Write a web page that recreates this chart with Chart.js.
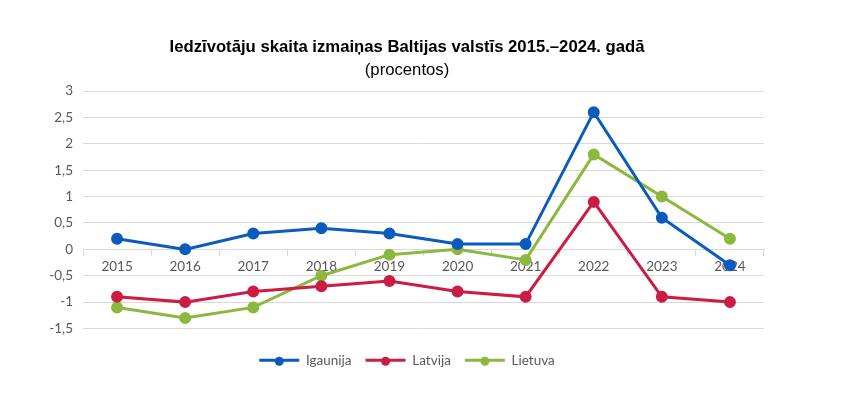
<!DOCTYPE html>
<html>
<head>
<meta charset="utf-8">
<script src="https://cdn.jsdelivr.net/npm/chart.js@4.4.1/dist/chart.umd.min.js"></script>
<style>
  html, body { margin: 0; padding: 0; background: #ffffff; }
  #wrap { width: 853px; height: 396px; position: relative; }
</style>
</head>
<body>
<div id="wrap"><canvas id="c" width="853" height="396"></canvas></div>
<script>
const categories = ['2015','2016','2017','2018','2019','2020','2021','2022','2023','2024'];
const seriesNames = ['Igaunija','Latvija','Lietuva'];
const igaunija = [0.2, 0.0, 0.3, 0.4, 0.3, 0.1, 0.1, 2.6, 0.6, -0.3];
const latvija  = [-0.9, -1.0, -0.8, -0.7, -0.6, -0.8, -0.9, 0.9, -0.9, -1.0];
const lietuva  = [-1.1, -1.3, -1.1, -0.5, -0.1, 0.0, -0.2, 1.8, 1.0, 0.2];
const titleText = 'Iedzīvotāju skaita izmaiņas Baltijas valstīs 2015.–2024. gadā';
const subtitleText = '(procentos)';

const colors = ['#0B5BBE', '#CB1C44', '#8DB840'];

function ds(label, data, color) {
  return {
    label, data,
    borderColor: color, backgroundColor: color,
    pointBackgroundColor: color, pointBorderColor: color,
    borderWidth: 3, pointRadius: 4.5, pointHoverRadius: 4.5,
    tension: 0, yAxisID: 'y', xAxisID: 'x'
  };
}

const legendDots = {
  id: 'legendDots',
  afterDraw(chart) {
    const lg = chart.legend;
    if (!lg || !lg.legendHitBoxes) return;
    const ctx = chart.ctx;
    const bw = lg.options.labels.boxWidth;
    lg.legendHitBoxes.forEach((hb, i) => {
      const c = chart.data.datasets[i].borderColor;
      ctx.save();
      ctx.fillStyle = c;
      ctx.beginPath();
      ctx.arc(hb.left + bw / 2, hb.top + 1 + 13.5 / 2, 4.5, 0, Math.PI * 2);
      ctx.fill();
      ctx.restore();
    });
  }
};

new Chart(document.getElementById('c'), {
  type: 'line',
  data: {
    labels: categories,
    datasets: [
      ds(seriesNames[0], igaunija, colors[0]),
      ds(seriesNames[1], latvija, colors[1]),
      ds(seriesNames[2], lietuva, colors[2])
    ]
  },
  options: {
    responsive: false,
    animation: false,
    events: [],
    layout: { padding: { left: 20, right: 59, top: 37, bottom: 19 } },
    plugins: {
      title: {
        display: true, text: titleText, color: '#000000',
        font: { family: 'Liberation Sans', size: 16.7, weight: 'bold' },
        padding: { top: 0, bottom: 3 }
      },
      subtitle: {
        display: true, text: subtitleText, color: '#000000',
        font: { family: 'Liberation Sans', size: 16.7, weight: 'normal' },
        padding: { top: 0, bottom: 11 }
      },
      legend: {
        position: 'bottom',
        labels: {
          boxWidth: 40, boxHeight: 3, color: '#595959',
          font: { family: 'Lato', size: 13.5 },
          padding: 14,
          generateLabels(chart) {
            const items = Chart.defaults.plugins.legend.labels.generateLabels(chart);
            items.forEach(it => { it.lineWidth = 0; it.strokeStyle = 'rgba(0,0,0,0)'; });
            return items;
          }
        }
      },
      tooltip: { enabled: false }
    },
    scales: {
      x: {
        position: { y: 0 },
        offset: true,
        grid: { offset: true, drawOnChartArea: false, drawTicks: true, tickLength: 6, color: '#d9d9d9' },
        border: { display: true, color: '#d9d9d9', width: 1 },
        ticks: { color: '#595959', font: { family: 'Lato', size: 13.5 }, padding: 3, maxRotation: 0 }
      },
      x2: {
        type: 'category',
        position: 'bottom',
        display: true,
        grid: { display: false },
        border: { display: false },
        ticks: { display: false },
        afterFit(s) { s.height = 11; }
      },
      y: {
        position: 'left',
        min: -1.5, max: 3,
        grid: { color: '#d9d9d9', drawTicks: false },
        border: { display: false },
        ticks: {
          stepSize: 0.5, padding: 10, color: '#595959',
          font: { family: 'Lato', size: 13.5 },
          callback: v => String(v).replace('.', ',')
        },
        afterFit(s) { s.width = 63; }
      },
      y2: {
        position: 'right',
        display: true,
        grid: { display: false },
        border: { display: false },
        ticks: { display: false },
        afterFit(s) { s.width = 30; }
      }
    }
  },
  plugins: [legendDots]
});
</script>
</body>
</html>
